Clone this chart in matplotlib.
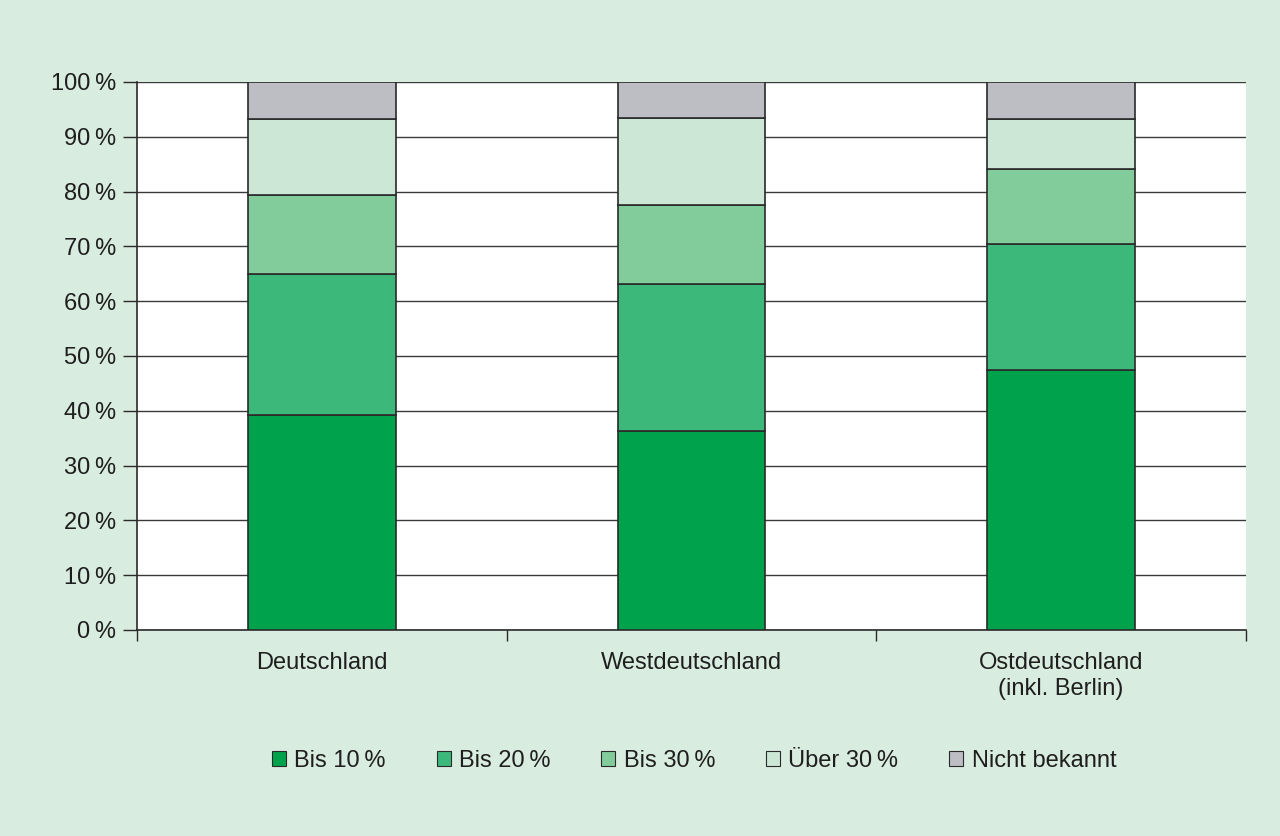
import matplotlib
matplotlib.use("Agg")
import matplotlib.pyplot as plt
import numpy as np
from matplotlib.patches import Patch

categories = ["Deutschland", "Westdeutschland", "Ostdeutschland\n(inkl. Berlin)"]
series_names = ["Bis 10\u2009%", "Bis 20\u2009%", "Bis 30\u2009%", "Über 30\u2009%", "Nicht bekannt"]
bis10 = [39.2, 36.3, 47.4]
bis20 = [25.8, 26.8, 23.0]
bis30 = [14.4, 14.5, 13.7]
ueber30 = [13.9, 15.8, 9.1]
nicht_bekannt = [6.7, 6.6, 6.8]
y_ticks = [0, 10, 20, 30, 40, 50, 60, 70, 80, 90, 100]
y_ticklabels = [f"{v}\u2009%" for v in y_ticks]

colors = ["#00a34b", "#3cb97a", "#82cc9c", "#cce7d6", "#bcbec3"]
bg = "#d9ece0"
fs = 17

plt.rcParams['font.family'] = ['Liberation Sans', 'DejaVu Sans']

fig = plt.figure(figsize=(12.8, 8.36), dpi=100, facecolor=bg)
ax = fig.add_axes([137/1280, 1-630/836, (1246-137)/1280, (630-82)/836])
ax.set_facecolor("white")

x = np.arange(len(categories))
bottom = np.zeros(len(categories))
for vals, c in zip([bis10, bis20, bis30, ueber30, nicht_bekannt], colors):
    ax.bar(x, vals, bottom=bottom, width=0.4, color=c, edgecolor="#2a2a2a", linewidth=1.2, zorder=3)
    bottom += np.array(vals)

ax.set_xlim(-0.5, len(categories) - 0.5)
ax.set_ylim(0, 100)
ax.set_yticks(y_ticks)
ax.set_yticklabels(y_ticklabels, fontsize=fs, color="#1e1e1e")
ax.yaxis.grid(True, color="#3a3a3a", linewidth=1.0, zorder=0)
ax.set_axisbelow(True)

ax.set_xticks(x)
ax.set_xticklabels(categories, fontsize=fs, color="#1e1e1e", linespacing=1.25)
ax.tick_params(axis="x", length=0, pad=16)
ax.set_xticks(np.arange(len(categories) + 1) - 0.5, minor=True)
ax.tick_params(axis="x", which="minor", length=8, width=1, color="#2a2a2a", direction="out")
ax.tick_params(axis="y", length=10, width=1, color="#2a2a2a", direction="out", pad=5)

for s in ["top", "right"]:
    ax.spines[s].set_visible(False)
for s in ["left", "bottom"]:
    ax.spines[s].set_color("#2a2a2a")
    ax.spines[s].set_linewidth(1.2)

handles = [Patch(facecolor=c, edgecolor="#2a2a2a", linewidth=0.8) for c in colors]
leg = fig.legend(handles, series_names, loc="center", bbox_to_anchor=(694/1280, 1 - 761/836),
           ncol=5, frameon=False, fontsize=fs, handlelength=0.6, handleheight=0.6,
           handletextpad=0.35, columnspacing=2.15)
for t in leg.get_texts():
    t.set_color("#1e1e1e")

fig.savefig("out.png", dpi=100, facecolor=bg)
